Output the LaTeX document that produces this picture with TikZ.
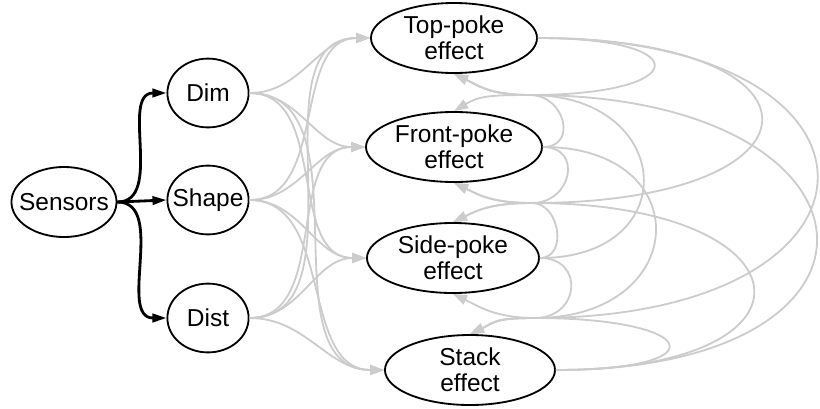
\documentclass[tikz,border=0pt]{standalone}
\usepackage{fontspec}
\setmainfont{Liberation Sans}
\usetikzlibrary{arrows.meta,shapes.geometric}
\definecolor{edgegray}{HTML}{CCCCCC}
\begin{document}
\begin{tikzpicture}[
    x=0.025cm, y=-0.025cm,
    source/.style={ellipse, draw, line width=1.3pt, inner ysep=0pt, inner xsep=-5.5pt, minimum width=2.6cm, minimum height=1.75cm, font=\fontsize{17.4}{18.5}\selectfont},
    feature/.style={ellipse, draw, line width=1.3pt, inner sep=0pt, minimum width=2.03cm, minimum height=1.72cm, font=\fontsize{17.4}{18.5}\selectfont},
    effect/.style={ellipse, draw, line width=1.3pt, inner sep=0pt, minimum height=1.75cm, align=center, font=\fontsize{17.4}{18.5}\selectfont},
    arrow/.style={line width=2pt, -{Triangle[length=10pt,width=6pt]}},
    grayarrow/.style={draw=edgegray, line width=1.3pt, -{Triangle[length=10pt,width=7pt]}}
]
    \useasboundingbox (0,0) rectangle (820,408);

    % Sensor input
    \node [source] (sensors) at (64,202) {Sensors};

    % Features
    \node [feature] (dim) at (208,93) {Dim};
    \node [feature, inner xsep=-4.8pt] (shape) at (208,200) {Shape};
    \node [feature] (dist) at (208,318) {Dist};

    % Effects
    \node [effect, minimum width=4.15cm] (top) at (454,38) {Top-poke\\effect};
    \node [effect, minimum width=4.4cm] (front) at (454,147) {Front-poke\\effect};
    \node [effect, minimum width=4.3cm] (side) at (453,258) {Side-poke\\effect};
    \node [effect, minimum width=4.25cm] (stack) at (470,370) {Stack\\effect};

    % Meeting points between effects
    \coordinate (j1) at (530,95);
    \coordinate (j2) at (532,203);
    \coordinate (j3) at (535,318);

    % Arrows
    \draw [arrow] (sensors.east) to[out=0,in=180] (dim.west);
    \draw [arrow] (sensors.east) -- (shape.west);
    \draw [arrow] (sensors.east) to[out=0,in=180] (dist.west);

    \draw [grayarrow] (dim.east) to[out=0,in=180] (top.west);
    \draw [grayarrow] (dim.east) to[out=0,in=180] (front.west);
    \draw [grayarrow] (dim.east) to[out=0,in=180] (side.west);
    \draw [grayarrow] (dim.east) to[out=0,in=180] (stack.west);
    \draw [grayarrow] (shape.east) to[out=0,in=180] (top.west);
    \draw [grayarrow] (shape.east) to[out=0,in=180] (front.west);
    \draw [grayarrow] (shape.east) to[out=0,in=180] (side.west);
    \draw [grayarrow] (shape.east) to[out=0,in=180] (stack.west);
    \draw [grayarrow] (dist.east) to[out=0,in=180] (top.west);
    \draw [grayarrow] (dist.east) to[out=0,in=180] (front.west);
    \draw [grayarrow] (dist.east) to[out=0,in=180] (side.west);
    \draw [grayarrow] (dist.east) to[out=0,in=180] (stack.west);

    % Effect to effect
    \draw [grayarrow] (top.east) .. controls +(161,0) and +(161,0) .. (j1) .. controls +(-40,0) and +(25,-15) .. (front.north);
    \draw [grayarrow] (top.east) .. controls +(303,0) and +(303,0) .. (j2) .. controls +(-40,0) and +(25,-12) .. (side.north);
    \draw [grayarrow] (top.east) .. controls +(375,0) and +(375,0) .. (j3) .. controls +(-40,0) and +(25,-12) .. (stack.north);
    \draw [grayarrow] (front.east) .. controls +(35,0) and +(35,0) .. (j1) .. controls +(-40,0) and +(25,12) .. (top.south);
    \draw [grayarrow] (front.east) .. controls +(40,0) and +(40,0) .. (j2) .. controls +(-40,0) and +(25,-12) .. (side.north);
    \draw [grayarrow] (front.east) .. controls +(156,0) and +(156,0) .. (j3) .. controls +(-40,0) and +(25,-12) .. (stack.north);
    \draw [grayarrow] (side.east) .. controls +(145,0) and +(145,0) .. (j1) .. controls +(-40,0) and +(25,12) .. (top.south);
    \draw [grayarrow] (side.east) .. controls +(28,0) and +(28,0) .. (j2) .. controls +(-40,0) and +(25,12) .. (front.south);
    \draw [grayarrow] (side.east) .. controls +(45,0) and +(45,0) .. (j3) .. controls +(-40,0) and +(25,-12) .. (stack.north);
    \draw [grayarrow] (stack.east) .. controls +(365,0) and +(365,0) .. (j1) .. controls +(-40,0) and +(25,12) .. (top.south);
    \draw [grayarrow] (stack.east) .. controls +(280,0) and +(280,0) .. (j2) .. controls +(-40,0) and +(25,12) .. (front.south);
    \draw [grayarrow] (stack.east) .. controls +(165,0) and +(165,0) .. (j3) .. controls +(-40,0) and +(25,12) .. (side.south);
\end{tikzpicture}
\end{document}
